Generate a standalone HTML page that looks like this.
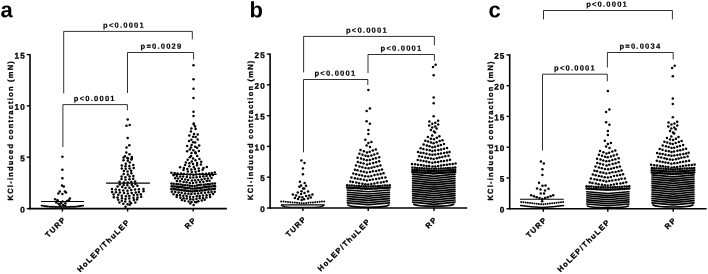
<!DOCTYPE html>
<html lang="en"><head><meta charset="utf-8"><title>KCl-induced contraction</title>
<style>html,body{margin:0;padding:0;background:#fff}body{width:708px;height:274px;overflow:hidden}svg{display:block}text{font-family:'Liberation Sans', Arial, sans-serif;fill:#000;text-rendering:geometricPrecision}.s{stroke:#000;stroke-width:.3px}.p{stroke:#000;stroke-width:.16px}</style>
</head><body>
<svg width="708" height="274" viewBox="0 0 708 274">
<rect width="708" height="274" fill="#fff"/>
<text transform="translate(0.6,17.3) rotate(0.05)" font-size="22" font-weight="bold" text-anchor="start" letter-spacing="0" >a</text>
<text transform="translate(249.6,17.3) rotate(0.05)" font-size="22" font-weight="bold" text-anchor="start" letter-spacing="0" >b</text>
<text transform="translate(488.6,17.3) rotate(0.05)" font-size="22" font-weight="bold" text-anchor="start" letter-spacing="0" >c</text>
<line x1="30" y1="53.9" x2="30" y2="209.4" stroke="#000" stroke-width="1.6"/>
<line x1="29.2" y1="208.6" x2="226.9" y2="208.6" stroke="#000" stroke-width="1.6"/>
<line x1="26.8" y1="54.6" x2="30" y2="54.6" stroke="#000" stroke-width="1.4"/>
<text transform="translate(25.8,58.5) rotate(0.05)" font-size="8.2" font-weight="bold" text-anchor="end" letter-spacing="1.1" class="s">15</text>
<line x1="26.8" y1="105.9" x2="30" y2="105.9" stroke="#000" stroke-width="1.4"/>
<text transform="translate(25.8,109.8) rotate(0.05)" font-size="8.2" font-weight="bold" text-anchor="end" letter-spacing="1.1" class="s">10</text>
<line x1="26.8" y1="157.2" x2="30" y2="157.2" stroke="#000" stroke-width="1.4"/>
<text transform="translate(25.8,161.2) rotate(0.05)" font-size="8.2" font-weight="bold" text-anchor="end" letter-spacing="1.1" class="s">5</text>
<line x1="26.8" y1="208.6" x2="30" y2="208.6" stroke="#000" stroke-width="1.4"/>
<text transform="translate(25.8,212.5) rotate(0.05)" font-size="8.2" font-weight="bold" text-anchor="end" letter-spacing="1.1" class="s">0</text>
<line x1="62.4" y1="208.6" x2="62.4" y2="211.6" stroke="#000" stroke-width="1.4"/>
<line x1="127.6" y1="208.6" x2="127.6" y2="211.6" stroke="#000" stroke-width="1.4"/>
<line x1="193.2" y1="208.6" x2="193.2" y2="211.6" stroke="#000" stroke-width="1.4"/>
<text class="s" transform="translate(66.5,219.8) rotate(-45)" font-size="7.6" font-weight="bold" text-anchor="end" letter-spacing="1.28">TURP</text>
<text class="s" transform="translate(130.5,222.2) rotate(-45)" font-size="7.6" font-weight="bold" text-anchor="end" letter-spacing="1.28">HoLEP/ThuLEP</text>
<text class="s" transform="translate(196.9,220.3) rotate(-45)" font-size="7.6" font-weight="bold" text-anchor="end" letter-spacing="1.28">RP</text>
<text class="s" transform="translate(13.4,130.2) rotate(-90)" font-size="7.5" font-weight="bold" text-anchor="middle" letter-spacing="1.22">KCl-induced contraction (mN)</text>
<polyline fill="none" stroke="#1a1a1a" stroke-width="0.9" points="63.7,93.3 63.7,31.4 192.3,31.4 192.3,39.3"/>
<text transform="translate(124,27.8) rotate(0.05)" font-size="7.6" font-weight="bold" text-anchor="middle" letter-spacing="1.2" class="p">p&lt;0.0001</text>
<polyline fill="none" stroke="#1a1a1a" stroke-width="0.9" points="127.5,93 127.5,52.5 193.6,52.5 193.6,59.5"/>
<text transform="translate(161.5,48.8) rotate(0.05)" font-size="7.6" font-weight="bold" text-anchor="middle" letter-spacing="1.2" class="p">p=0.0029</text>
<polyline fill="none" stroke="#1a1a1a" stroke-width="0.9" points="62.9,147 62.9,104.6 127.4,104.6 127.4,110.3"/>
<text transform="translate(94.8,100.9) rotate(0.05)" font-size="7.6" font-weight="bold" text-anchor="middle" letter-spacing="1.2" class="p">p&lt;0.0001</text>
<g fill="#000"><circle cx="62.4" cy="156.8" r="1.25"/><circle cx="62.4" cy="169.7" r="1.25"/><circle cx="62.4" cy="178.2" r="1.25"/><circle cx="62" cy="185.4" r="1.25"/><circle cx="63.8" cy="186.6" r="1.25"/><circle cx="59.8" cy="191.6" r="1.25"/><circle cx="64.9" cy="191.4" r="1.25"/><circle cx="62.4" cy="194" r="1.25"/><circle cx="58.4" cy="193.4" r="1.25"/><circle cx="66" cy="192.6" r="1.25"/><circle cx="55.2" cy="199.3" r="1.25"/><circle cx="57.5" cy="200.2" r="1.25"/><circle cx="69.9" cy="198.6" r="1.25"/><circle cx="68.8" cy="200.2" r="1.25"/><circle cx="67.2" cy="201.1" r="1.25"/><circle cx="56.3" cy="202.4" r="1.25"/><circle cx="58.6" cy="203.8" r="1.25"/><circle cx="60.9" cy="203.3" r="1.25"/><circle cx="63.1" cy="204.9" r="1.25"/><circle cx="65.4" cy="203.3" r="1.25"/><circle cx="62.7" cy="201.5" r="1.25"/><circle cx="60" cy="205.6" r="1.25"/><circle cx="65.2" cy="205.8" r="1.25"/></g>
<g fill="#000"><circle cx="41.6" cy="205.6" r="0.95"/><circle cx="42.9" cy="205.8" r="0.95"/><circle cx="44.1" cy="206" r="0.95"/><circle cx="45.4" cy="206.2" r="0.95"/><circle cx="46.6" cy="206.3" r="0.95"/><circle cx="47.9" cy="206.5" r="0.95"/><circle cx="49.2" cy="206.6" r="0.95"/><circle cx="50.4" cy="206.7" r="0.95"/><circle cx="51.7" cy="206.7" r="0.95"/><circle cx="52.9" cy="206.8" r="0.95"/><circle cx="54.2" cy="206.8" r="0.95"/><circle cx="55.5" cy="206.9" r="0.95"/><circle cx="56.7" cy="206.9" r="0.95"/><circle cx="58" cy="206.9" r="0.95"/><circle cx="59.2" cy="206.9" r="0.95"/><circle cx="60.5" cy="206.9" r="0.95"/><circle cx="61.8" cy="206.9" r="0.95"/><circle cx="63" cy="206.9" r="0.95"/><circle cx="64.3" cy="206.9" r="0.95"/><circle cx="65.6" cy="206.9" r="0.95"/><circle cx="66.8" cy="206.9" r="0.95"/><circle cx="68.1" cy="206.9" r="0.95"/><circle cx="69.3" cy="206.9" r="0.95"/><circle cx="70.6" cy="206.8" r="0.95"/><circle cx="71.9" cy="206.8" r="0.95"/><circle cx="73.1" cy="206.7" r="0.95"/><circle cx="74.4" cy="206.7" r="0.95"/><circle cx="75.6" cy="206.6" r="0.95"/><circle cx="76.9" cy="206.5" r="0.95"/><circle cx="78.2" cy="206.3" r="0.95"/><circle cx="79.4" cy="206.2" r="0.95"/><circle cx="80.7" cy="206" r="0.95"/><circle cx="81.9" cy="205.8" r="0.95"/><circle cx="83.2" cy="205.6" r="0.95"/></g>
<line x1="41" y1="201.5" x2="84" y2="201.5" stroke="#000" stroke-width="1.2"/>
<g fill="#000"><circle cx="125.5" cy="206.8" r="1.25"/><circle cx="129.7" cy="204.8" r="1.25"/><circle cx="127.6" cy="204.2" r="1.25"/><circle cx="123.3" cy="203.8" r="1.25"/><circle cx="131.1" cy="203.2" r="1.25"/><circle cx="119.4" cy="202.6" r="1.25"/><circle cx="135.3" cy="202.5" r="1.25"/><circle cx="125.3" cy="201.4" r="1.25"/><circle cx="129.7" cy="201.4" r="1.25"/><circle cx="121.8" cy="200.7" r="1.25"/><circle cx="133.9" cy="200.1" r="1.25"/><circle cx="118.2" cy="199.8" r="1.25"/><circle cx="137" cy="199.4" r="1.25"/><circle cx="125.5" cy="199" r="1.25"/><circle cx="129.3" cy="198.6" r="1.25"/><circle cx="121.9" cy="198.2" r="1.25"/><circle cx="133.5" cy="197.7" r="1.25"/><circle cx="117.5" cy="197.5" r="1.25"/><circle cx="137.5" cy="197.4" r="1.25"/><circle cx="113.8" cy="197.2" r="1.25"/><circle cx="141.2" cy="196.7" r="1.25"/><circle cx="125.9" cy="196.2" r="1.25"/><circle cx="129.3" cy="195.9" r="1.25"/><circle cx="121.8" cy="195.8" r="1.25"/><circle cx="133.7" cy="195.1" r="1.25"/><circle cx="118.3" cy="194.8" r="1.25"/><circle cx="137.3" cy="194.8" r="1.25"/><circle cx="113.6" cy="194.4" r="1.25"/><circle cx="140.8" cy="194.2" r="1.25"/><circle cx="127.8" cy="193.4" r="1.25"/><circle cx="124" cy="193" r="1.25"/><circle cx="131.7" cy="193" r="1.25"/><circle cx="119.9" cy="192.6" r="1.25"/><circle cx="135.7" cy="192.6" r="1.25"/><circle cx="115.9" cy="192.2" r="1.25"/><circle cx="138.9" cy="192" r="1.25"/><circle cx="112.1" cy="191.9" r="1.25"/><circle cx="143.5" cy="191.3" r="1.25"/><circle cx="127.5" cy="190.8" r="1.25"/><circle cx="123.3" cy="190.4" r="1.25"/><circle cx="131.2" cy="190" r="1.25"/><circle cx="119.4" cy="190.1" r="1.25"/><circle cx="135.1" cy="189.5" r="1.25"/><circle cx="115.8" cy="189.6" r="1.25"/><circle cx="138.9" cy="189.2" r="1.25"/><circle cx="112" cy="189.1" r="1.25"/><circle cx="143.5" cy="188.9" r="1.25"/><circle cx="125.5" cy="187.9" r="1.25"/><circle cx="129.4" cy="187.8" r="1.25"/><circle cx="122.2" cy="187" r="1.25"/><circle cx="133.2" cy="186.6" r="1.25"/><circle cx="117.6" cy="186.4" r="1.25"/><circle cx="137.4" cy="185.8" r="1.25"/><circle cx="127.3" cy="185.2" r="1.25"/><circle cx="123.6" cy="185" r="1.25"/><circle cx="131.8" cy="184.8" r="1.25"/><circle cx="119.8" cy="184.5" r="1.25"/><circle cx="135.5" cy="184.1" r="1.25"/><circle cx="127.8" cy="182.6" r="1.25"/><circle cx="123.9" cy="182.4" r="1.25"/><circle cx="131.4" cy="182" r="1.25"/><circle cx="119.6" cy="181.8" r="1.25"/><circle cx="135.1" cy="181.4" r="1.25"/><circle cx="125.5" cy="179.7" r="1.25"/><circle cx="129.5" cy="179.3" r="1.25"/><circle cx="121.5" cy="179" r="1.25"/><circle cx="133.2" cy="178.8" r="1.25"/><circle cx="125.4" cy="177.2" r="1.25"/><circle cx="129.6" cy="176.6" r="1.25"/><circle cx="121.6" cy="176.4" r="1.25"/><circle cx="133.4" cy="175.9" r="1.25"/><circle cx="127.8" cy="174.5" r="1.25"/><circle cx="123.7" cy="173.9" r="1.25"/><circle cx="131.3" cy="173.2" r="1.25"/><circle cx="127.5" cy="171.6" r="1.25"/><circle cx="123.9" cy="171" r="1.25"/><circle cx="131.2" cy="170.8" r="1.25"/><circle cx="125.7" cy="168.8" r="1.25"/><circle cx="129.6" cy="168.4" r="1.25"/><circle cx="121.8" cy="168.4" r="1.25"/><circle cx="133.7" cy="168" r="1.25"/><circle cx="125.5" cy="166.2" r="1.25"/><circle cx="129.4" cy="166" r="1.25"/><circle cx="121.8" cy="165.6" r="1.25"/><circle cx="133.3" cy="165.1" r="1.25"/><circle cx="125.8" cy="163.7" r="1.25"/><circle cx="129.8" cy="162.6" r="1.25"/><circle cx="127.8" cy="160.8" r="1.25"/><circle cx="123.5" cy="160.3" r="1.25"/><circle cx="131.4" cy="159.6" r="1.25"/><circle cx="127.3" cy="158" r="1.25"/><circle cx="123.6" cy="157.6" r="1.25"/><circle cx="131.8" cy="157" r="1.25"/><circle cx="127.7" cy="119.5" r="1.25"/><circle cx="126.5" cy="125.7" r="1.25"/><circle cx="129.7" cy="124.9" r="1.25"/><circle cx="127.7" cy="138.1" r="1.25"/><circle cx="129.3" cy="145.2" r="1.25"/><circle cx="126.5" cy="147.6" r="1.25"/><circle cx="126.3" cy="152.6" r="1.25"/><circle cx="129.5" cy="154.2" r="1.25"/><circle cx="125" cy="156.2" r="1.25"/><circle cx="128" cy="158.6" r="1.25"/><circle cx="131.8" cy="158.8" r="1.25"/></g>
<line x1="106.1" y1="183.1" x2="149.9" y2="183.1" stroke="#000" stroke-width="1.2"/>
<g fill="#000"><circle cx="193.6" cy="205.1" r="1.25"/><circle cx="190.3" cy="203.6" r="1.25"/><circle cx="196.4" cy="202.3" r="1.25"/><circle cx="191.5" cy="202.1" r="1.25"/><circle cx="195" cy="202" r="1.25"/><circle cx="188.6" cy="201.5" r="1.25"/><circle cx="198.3" cy="201.2" r="1.25"/><circle cx="184.8" cy="200.8" r="1.25"/><circle cx="201.8" cy="200.5" r="1.25"/><circle cx="181.9" cy="200" r="1.25"/><circle cx="204.7" cy="199.8" r="1.25"/><circle cx="193.2" cy="199.6" r="1.25"/><circle cx="190.3" cy="199.2" r="1.25"/><circle cx="196.5" cy="199.1" r="1.25"/><circle cx="186.8" cy="198.6" r="1.25"/><circle cx="199.7" cy="198.3" r="1.25"/><circle cx="183.6" cy="198.3" r="1.25"/><circle cx="203" cy="198.1" r="1.25"/><circle cx="180.4" cy="197.8" r="1.25"/><circle cx="206.4" cy="197.5" r="1.25"/><circle cx="176.6" cy="197" r="1.25"/><circle cx="210.1" cy="197" r="1.25"/><circle cx="193.3" cy="196.9" r="1.25"/><circle cx="190" cy="196.7" r="1.25"/><circle cx="196.8" cy="196.2" r="1.25"/><circle cx="186.6" cy="196" r="1.25"/><circle cx="199.7" cy="195.9" r="1.25"/><circle cx="183.3" cy="195.7" r="1.25"/><circle cx="203" cy="195.6" r="1.25"/><circle cx="180" cy="195.3" r="1.25"/><circle cx="206.6" cy="195.2" r="1.25"/><circle cx="176.8" cy="195" r="1.25"/><circle cx="209.8" cy="194.7" r="1.25"/><circle cx="173.5" cy="194.3" r="1.25"/><circle cx="213.1" cy="194.1" r="1.25"/><circle cx="191.4" cy="194.1" r="1.25"/><circle cx="194.8" cy="193.8" r="1.25"/><circle cx="188.5" cy="193.7" r="1.25"/><circle cx="198.1" cy="193.4" r="1.25"/><circle cx="185.1" cy="193.4" r="1.25"/><circle cx="201.3" cy="193.1" r="1.25"/><circle cx="181.6" cy="192.8" r="1.25"/><circle cx="205" cy="192.7" r="1.25"/><circle cx="178.5" cy="192.6" r="1.25"/><circle cx="208.4" cy="192.3" r="1.25"/><circle cx="175.2" cy="192.1" r="1.25"/><circle cx="211.5" cy="192" r="1.25"/><circle cx="171.8" cy="191.7" r="1.25"/><circle cx="214.7" cy="191.7" r="1.25"/><circle cx="192.5" cy="191.4" r="1.25"/><circle cx="194.4" cy="191.1" r="1.25"/><circle cx="190.7" cy="191.3" r="1.25"/><circle cx="196.1" cy="190.9" r="1.25"/><circle cx="188.7" cy="190.9" r="1.25"/><circle cx="197.4" cy="190.7" r="1.25"/><circle cx="187" cy="190.8" r="1.25"/><circle cx="199.6" cy="190.7" r="1.25"/><circle cx="185.3" cy="190.6" r="1.25"/><circle cx="201.2" cy="190.3" r="1.25"/><circle cx="184" cy="190.5" r="1.25"/><circle cx="202.7" cy="190.4" r="1.25"/><circle cx="181.9" cy="190.1" r="1.25"/><circle cx="204.9" cy="190.1" r="1.25"/><circle cx="180" cy="189.9" r="1.25"/><circle cx="206.4" cy="189.7" r="1.25"/><circle cx="178.3" cy="189.6" r="1.25"/><circle cx="208.2" cy="189.4" r="1.25"/><circle cx="176.8" cy="189.5" r="1.25"/><circle cx="209.5" cy="189.3" r="1.25"/><circle cx="175.1" cy="189.3" r="1.25"/><circle cx="211.3" cy="189.4" r="1.25"/><circle cx="173.5" cy="189.3" r="1.25"/><circle cx="213.1" cy="188.9" r="1.25"/><circle cx="171.3" cy="189" r="1.25"/><circle cx="214.9" cy="188.7" r="1.25"/><circle cx="192.4" cy="188.7" r="1.25"/><circle cx="194.4" cy="188.4" r="1.25"/><circle cx="190.5" cy="188.5" r="1.25"/><circle cx="196" cy="188.4" r="1.25"/><circle cx="188.7" cy="188" r="1.25"/><circle cx="197.8" cy="188.1" r="1.25"/><circle cx="187" cy="188.1" r="1.25"/><circle cx="199.5" cy="188" r="1.25"/><circle cx="185.2" cy="187.9" r="1.25"/><circle cx="200.9" cy="187.8" r="1.25"/><circle cx="183.7" cy="187.5" r="1.25"/><circle cx="202.9" cy="187.6" r="1.25"/><circle cx="181.9" cy="187.2" r="1.25"/><circle cx="204.6" cy="187.2" r="1.25"/><circle cx="180" cy="187.1" r="1.25"/><circle cx="206.1" cy="187" r="1.25"/><circle cx="178.4" cy="186.9" r="1.25"/><circle cx="208.2" cy="186.8" r="1.25"/><circle cx="176.8" cy="186.7" r="1.25"/><circle cx="209.7" cy="186.5" r="1.25"/><circle cx="174.9" cy="186.4" r="1.25"/><circle cx="211.7" cy="186.5" r="1.25"/><circle cx="173.1" cy="186.4" r="1.25"/><circle cx="213.6" cy="186.1" r="1.25"/><circle cx="171.7" cy="186.2" r="1.25"/><circle cx="215" cy="186.2" r="1.25"/><circle cx="192.1" cy="185.9" r="1.25"/><circle cx="194.6" cy="185.9" r="1.25"/><circle cx="189.8" cy="185.7" r="1.25"/><circle cx="196.9" cy="185.5" r="1.25"/><circle cx="187.5" cy="185.3" r="1.25"/><circle cx="198.8" cy="185.1" r="1.25"/><circle cx="185" cy="185.2" r="1.25"/><circle cx="201.2" cy="184.8" r="1.25"/><circle cx="182.7" cy="184.9" r="1.25"/><circle cx="203.8" cy="184.7" r="1.25"/><circle cx="180.6" cy="184.5" r="1.25"/><circle cx="205.8" cy="184.4" r="1.25"/><circle cx="178.2" cy="184.3" r="1.25"/><circle cx="208" cy="184.3" r="1.25"/><circle cx="176.4" cy="184" r="1.25"/><circle cx="210.3" cy="184.1" r="1.25"/><circle cx="173.7" cy="183.7" r="1.25"/><circle cx="212.5" cy="183.6" r="1.25"/><circle cx="171.5" cy="183.5" r="1.25"/><circle cx="214.9" cy="183.4" r="1.25"/><circle cx="193" cy="183.1" r="1.25"/><circle cx="189.8" cy="182.9" r="1.25"/><circle cx="196.3" cy="182.5" r="1.25"/><circle cx="186.6" cy="182.3" r="1.25"/><circle cx="200" cy="182.1" r="1.25"/><circle cx="183.6" cy="181.9" r="1.25"/><circle cx="203.3" cy="181.8" r="1.25"/><circle cx="180" cy="181.3" r="1.25"/><circle cx="206.8" cy="181" r="1.25"/><circle cx="176.9" cy="180.9" r="1.25"/><circle cx="209.5" cy="180.8" r="1.25"/><circle cx="191.9" cy="180.5" r="1.25"/><circle cx="195.1" cy="180.3" r="1.25"/><circle cx="188.1" cy="180" r="1.25"/><circle cx="198.3" cy="179.9" r="1.25"/><circle cx="185.2" cy="179.6" r="1.25"/><circle cx="201.6" cy="179.4" r="1.25"/><circle cx="181.9" cy="179.1" r="1.25"/><circle cx="204.7" cy="178.7" r="1.25"/><circle cx="178.2" cy="178.5" r="1.25"/><circle cx="207.9" cy="178.5" r="1.25"/><circle cx="175.2" cy="178.2" r="1.25"/><circle cx="211.5" cy="178" r="1.25"/><circle cx="193.3" cy="177.5" r="1.25"/><circle cx="190.2" cy="177.6" r="1.25"/><circle cx="196.6" cy="177.3" r="1.25"/><circle cx="186.8" cy="176.9" r="1.25"/><circle cx="200" cy="176.8" r="1.25"/><circle cx="183.1" cy="176.6" r="1.25"/><circle cx="203.3" cy="176.3" r="1.25"/><circle cx="180.2" cy="176.4" r="1.25"/><circle cx="206.5" cy="176" r="1.25"/><circle cx="176.8" cy="175.9" r="1.25"/><circle cx="210" cy="175.7" r="1.25"/><circle cx="173.6" cy="175.3" r="1.25"/><circle cx="212.9" cy="175.1" r="1.25"/><circle cx="193.4" cy="174.9" r="1.25"/><circle cx="190.2" cy="174.6" r="1.25"/><circle cx="196.1" cy="174.5" r="1.25"/><circle cx="187.2" cy="174.5" r="1.25"/><circle cx="199.6" cy="174.2" r="1.25"/><circle cx="184" cy="174.1" r="1.25"/><circle cx="202.6" cy="173.8" r="1.25"/><circle cx="181.1" cy="173.6" r="1.25"/><circle cx="206" cy="173.7" r="1.25"/><circle cx="177.5" cy="173.4" r="1.25"/><circle cx="209" cy="173.4" r="1.25"/><circle cx="174.6" cy="172.9" r="1.25"/><circle cx="211.8" cy="173" r="1.25"/><circle cx="171.4" cy="172.7" r="1.25"/><circle cx="214.8" cy="172.5" r="1.25"/><circle cx="191.8" cy="172" r="1.25"/><circle cx="195.6" cy="171.8" r="1.25"/><circle cx="187.8" cy="171.4" r="1.25"/><circle cx="198.9" cy="171" r="1.25"/><circle cx="183.5" cy="170" r="1.25"/><circle cx="202.6" cy="169.8" r="1.25"/><circle cx="191.3" cy="169.4" r="1.25"/><circle cx="194.9" cy="169.1" r="1.25"/><circle cx="187.3" cy="169" r="1.25"/><circle cx="198.7" cy="168.6" r="1.25"/><circle cx="183.9" cy="167.9" r="1.25"/><circle cx="203.5" cy="167.9" r="1.25"/><circle cx="180.1" cy="167.3" r="1.25"/><circle cx="206.8" cy="167" r="1.25"/><circle cx="193.8" cy="166.9" r="1.25"/><circle cx="189.3" cy="166.2" r="1.25"/><circle cx="197" cy="165.3" r="1.25"/><circle cx="185.1" cy="165.1" r="1.25"/><circle cx="200.9" cy="164.6" r="1.25"/><circle cx="193" cy="164" r="1.25"/><circle cx="189.4" cy="163.3" r="1.25"/><circle cx="197.1" cy="163.1" r="1.25"/><circle cx="185.9" cy="162.4" r="1.25"/><circle cx="201.2" cy="161.8" r="1.25"/><circle cx="191.8" cy="161.4" r="1.25"/><circle cx="195.5" cy="160.3" r="1.25"/><circle cx="187.7" cy="159.7" r="1.25"/><circle cx="199.4" cy="159" r="1.25"/><circle cx="193.1" cy="158.4" r="1.25"/><circle cx="189.8" cy="157.2" r="1.25"/><circle cx="197.2" cy="156.1" r="1.25"/><circle cx="191.1" cy="156.1" r="1.25"/><circle cx="195.7" cy="153.3" r="1.25"/><circle cx="191.5" cy="153.1" r="1.25"/><circle cx="195.3" cy="152.3" r="1.25"/><circle cx="187.1" cy="151.3" r="1.25"/><circle cx="198.9" cy="151" r="1.25"/><circle cx="193.3" cy="150.3" r="1.25"/><circle cx="189.8" cy="149.5" r="1.25"/><circle cx="197.1" cy="147.8" r="1.25"/><circle cx="191" cy="147.5" r="1.25"/><circle cx="195.1" cy="146.7" r="1.25"/><circle cx="187.2" cy="146" r="1.25"/><circle cx="199.2" cy="145.5" r="1.25"/><circle cx="191.6" cy="145" r="1.25"/><circle cx="195.2" cy="142.6" r="1.25"/><circle cx="193.2" cy="142.2" r="1.25"/><circle cx="189" cy="141" r="1.25"/><circle cx="197.7" cy="139.6" r="1.25"/><circle cx="191.4" cy="139.7" r="1.25"/><circle cx="195.6" cy="136.9" r="1.25"/><circle cx="193.1" cy="136.7" r="1.25"/><circle cx="189.3" cy="135.6" r="1.25"/><circle cx="197.7" cy="134.6" r="1.25"/><circle cx="194" cy="134.1" r="1.25"/><circle cx="190.9" cy="131.6" r="1.25"/><circle cx="195.6" cy="128.9" r="1.25"/><circle cx="191.4" cy="128.4" r="1.25"/><circle cx="195.1" cy="126.5" r="1.25"/><circle cx="193.9" cy="124.4" r="1.25"/><circle cx="193.5" cy="65.2" r="1.25"/><circle cx="193.5" cy="79.3" r="1.25"/><circle cx="193.5" cy="88.8" r="1.25"/><circle cx="193.5" cy="98" r="1.25"/><circle cx="193.5" cy="111.8" r="1.25"/><circle cx="193.5" cy="115.9" r="1.25"/><circle cx="193.7" cy="123.5" r="1.25"/></g>
<line x1="172.4" y1="174.3" x2="216.7" y2="174.3" stroke="#000" stroke-width="1.2"/>
<line x1="270.1" y1="53.4" x2="270.1" y2="208.8" stroke="#000" stroke-width="1.6"/>
<line x1="269.3" y1="208" x2="467.2" y2="208" stroke="#000" stroke-width="1.6"/>
<line x1="266.9" y1="54.1" x2="270.1" y2="54.1" stroke="#000" stroke-width="1.4"/>
<text transform="translate(265.9,58) rotate(0.05)" font-size="8.2" font-weight="bold" text-anchor="end" letter-spacing="1.1" class="s">25</text>
<line x1="266.9" y1="84.9" x2="270.1" y2="84.9" stroke="#000" stroke-width="1.4"/>
<text transform="translate(265.9,88.8) rotate(0.05)" font-size="8.2" font-weight="bold" text-anchor="end" letter-spacing="1.1" class="s">20</text>
<line x1="266.9" y1="115.7" x2="270.1" y2="115.7" stroke="#000" stroke-width="1.4"/>
<text transform="translate(265.9,119.6) rotate(0.05)" font-size="8.2" font-weight="bold" text-anchor="end" letter-spacing="1.1" class="s">15</text>
<line x1="266.9" y1="146.4" x2="270.1" y2="146.4" stroke="#000" stroke-width="1.4"/>
<text transform="translate(265.9,150.3) rotate(0.05)" font-size="8.2" font-weight="bold" text-anchor="end" letter-spacing="1.1" class="s">10</text>
<line x1="266.9" y1="177.2" x2="270.1" y2="177.2" stroke="#000" stroke-width="1.4"/>
<text transform="translate(265.9,181.1) rotate(0.05)" font-size="8.2" font-weight="bold" text-anchor="end" letter-spacing="1.1" class="s">5</text>
<line x1="266.9" y1="208" x2="270.1" y2="208" stroke="#000" stroke-width="1.4"/>
<text transform="translate(265.9,211.9) rotate(0.05)" font-size="8.2" font-weight="bold" text-anchor="end" letter-spacing="1.1" class="s">0</text>
<line x1="302.9" y1="208" x2="302.9" y2="211" stroke="#000" stroke-width="1.4"/>
<line x1="368.2" y1="208" x2="368.2" y2="211" stroke="#000" stroke-width="1.4"/>
<line x1="434" y1="208" x2="434" y2="211" stroke="#000" stroke-width="1.4"/>
<text class="s" transform="translate(307,219.2) rotate(-45)" font-size="7.6" font-weight="bold" text-anchor="end" letter-spacing="1.28">TURP</text>
<text class="s" transform="translate(371.1,221.6) rotate(-45)" font-size="7.6" font-weight="bold" text-anchor="end" letter-spacing="1.28">HoLEP/ThuLEP</text>
<text class="s" transform="translate(437.7,219.7) rotate(-45)" font-size="7.6" font-weight="bold" text-anchor="end" letter-spacing="1.28">RP</text>
<text class="s" transform="translate(253,129.7) rotate(-90)" font-size="7.5" font-weight="bold" text-anchor="middle" letter-spacing="1.22">KCl-induced contraction (mN)</text>
<polyline fill="none" stroke="#1a1a1a" stroke-width="0.9" points="303.6,72.4 303.6,36.4 434.4,36.4 434.4,45.5"/>
<text transform="translate(366.9,32.7) rotate(0.05)" font-size="7.6" font-weight="bold" text-anchor="middle" letter-spacing="1.2" class="p">p&lt;0.0001</text>
<polyline fill="none" stroke="#1a1a1a" stroke-width="0.9" points="368,73 368,54.5 434.4,54.5 434.4,60.7"/>
<text transform="translate(401.5,50.8) rotate(0.05)" font-size="7.6" font-weight="bold" text-anchor="middle" letter-spacing="1.2" class="p">p&lt;0.0001</text>
<polyline fill="none" stroke="#1a1a1a" stroke-width="0.9" points="303.5,152.3 303.5,79.5 367.8,79.5 367.8,85"/>
<text transform="translate(335.4,75.8) rotate(0.05)" font-size="7.6" font-weight="bold" text-anchor="middle" letter-spacing="1.2" class="p">p&lt;0.0001</text>
<g fill="#000"><circle cx="301.4" cy="160.5" r="1.25"/><circle cx="304.5" cy="162.9" r="1.25"/><circle cx="302.9" cy="168.4" r="1.25"/><circle cx="302.9" cy="174.2" r="1.25"/><circle cx="299.9" cy="181.7" r="1.25"/><circle cx="301.6" cy="199.9" r="1.25"/><circle cx="304" cy="199.3" r="1.25"/><circle cx="298" cy="199" r="1.25"/><circle cx="308" cy="198.5" r="1.25"/><circle cx="294.9" cy="198" r="1.25"/><circle cx="310.8" cy="197.4" r="1.25"/><circle cx="302.4" cy="197.3" r="1.25"/><circle cx="299.4" cy="196.9" r="1.25"/><circle cx="306.1" cy="196.1" r="1.25"/><circle cx="296.1" cy="195.6" r="1.25"/><circle cx="309.3" cy="195.4" r="1.25"/><circle cx="292.9" cy="194.6" r="1.25"/><circle cx="312.4" cy="194.5" r="1.25"/><circle cx="301.1" cy="194.1" r="1.25"/><circle cx="304.5" cy="193" r="1.25"/><circle cx="297.8" cy="192.4" r="1.25"/><circle cx="308" cy="191.6" r="1.25"/><circle cx="301.5" cy="191.3" r="1.25"/><circle cx="304.2" cy="188.5" r="1.25"/><circle cx="303.2" cy="188.5" r="1.25"/><circle cx="299.4" cy="186.8" r="1.25"/><circle cx="306" cy="185.8" r="1.25"/><circle cx="301.1" cy="185.4" r="1.25"/><circle cx="304.6" cy="183.1" r="1.25"/></g>
<g fill="#000"><circle cx="281.2" cy="201.4" r="1.0"/><circle cx="283.5" cy="201.6" r="1.0"/><circle cx="285.7" cy="201.8" r="1.0"/><circle cx="288" cy="202" r="1.0"/><circle cx="290.3" cy="202.2" r="1.0"/><circle cx="292.5" cy="202.4" r="1.0"/><circle cx="294.8" cy="202.6" r="1.0"/><circle cx="297" cy="202.8" r="1.0"/><circle cx="299.3" cy="203" r="1.0"/><circle cx="301.6" cy="203.2" r="1.0"/><circle cx="303.8" cy="203.2" r="1.0"/><circle cx="306.1" cy="203" r="1.0"/><circle cx="308.4" cy="202.8" r="1.0"/><circle cx="310.6" cy="202.6" r="1.0"/><circle cx="312.9" cy="202.4" r="1.0"/><circle cx="315.1" cy="202.2" r="1.0"/><circle cx="317.4" cy="202" r="1.0"/><circle cx="319.7" cy="201.8" r="1.0"/><circle cx="321.9" cy="201.6" r="1.0"/><circle cx="324.2" cy="201.4" r="1.0"/></g>
<path d="M281.3,205.2 Q284,207.1 291,207.2 L314.5,207.2 Q321.5,207.1 324.2,205.2" fill="none" stroke="#000" stroke-width="1.1" stroke-linecap="round"/>
<line x1="281" y1="204.8" x2="324.4" y2="204.8" stroke="#000" stroke-width="1.2"/>
<path d="M347.3,190 L368.4,191.8 L389.5,190 M347.3,192.2 L368.4,194 L389.5,192.2 M347.3,194.3 L368.4,196.1 L389.5,194.3 M347.3,196.4 L368.4,198.2 L389.5,196.4 M347.3,198.6 L368.4,200.4 L389.5,198.6 M347.3,200.8 L368.4,202.6 L389.5,200.8 M347.3,202.9 L368.4,204.7 L389.5,202.9 M347.9,205 Q350.9,207.2 368.4,207.2 Q385.9,207.2 388.9,205" fill="none" stroke="#000" stroke-width="1.58" stroke-linecap="round" stroke-linejoin="round"/>
<g fill="#000"><circle cx="347.1" cy="185.3" r="1.25"/><circle cx="349.5" cy="185.4" r="1.25"/><circle cx="351.8" cy="185.6" r="1.25"/><circle cx="354.2" cy="185.7" r="1.25"/><circle cx="356.6" cy="185.9" r="1.25"/><circle cx="358.9" cy="186" r="1.25"/><circle cx="361.3" cy="186.2" r="1.25"/><circle cx="363.7" cy="186.3" r="1.25"/><circle cx="366" cy="186.5" r="1.25"/><circle cx="368.4" cy="186.6" r="1.25"/><circle cx="370.8" cy="186.5" r="1.25"/><circle cx="373.1" cy="186.3" r="1.25"/><circle cx="375.5" cy="186.2" r="1.25"/><circle cx="377.9" cy="186" r="1.25"/><circle cx="380.2" cy="185.9" r="1.25"/><circle cx="382.6" cy="185.7" r="1.25"/><circle cx="385" cy="185.6" r="1.25"/><circle cx="387.3" cy="185.4" r="1.25"/><circle cx="389.7" cy="185.3" r="1.25"/><circle cx="347.1" cy="187.6" r="1.25"/><circle cx="348.8" cy="187.7" r="1.25"/><circle cx="350.5" cy="187.8" r="1.25"/><circle cx="352.2" cy="187.9" r="1.25"/><circle cx="353.9" cy="188" r="1.25"/><circle cx="355.6" cy="188.1" r="1.25"/><circle cx="357.3" cy="188.2" r="1.25"/><circle cx="359" cy="188.3" r="1.25"/><circle cx="360.7" cy="188.4" r="1.25"/><circle cx="362.4" cy="188.5" r="1.25"/><circle cx="364.1" cy="188.6" r="1.25"/><circle cx="365.8" cy="188.7" r="1.25"/><circle cx="367.5" cy="188.8" r="1.25"/><circle cx="369.3" cy="188.8" r="1.25"/><circle cx="371" cy="188.7" r="1.25"/><circle cx="372.7" cy="188.6" r="1.25"/><circle cx="374.4" cy="188.5" r="1.25"/><circle cx="376.1" cy="188.4" r="1.25"/><circle cx="377.8" cy="188.3" r="1.25"/><circle cx="379.5" cy="188.2" r="1.25"/><circle cx="381.2" cy="188.1" r="1.25"/><circle cx="382.9" cy="188" r="1.25"/><circle cx="384.6" cy="187.9" r="1.25"/><circle cx="386.3" cy="187.8" r="1.25"/><circle cx="388" cy="187.7" r="1.25"/><circle cx="389.7" cy="187.6" r="1.25"/><circle cx="368.2" cy="184.4" r="1.25"/><circle cx="365.3" cy="184.2" r="1.25"/><circle cx="371.3" cy="184" r="1.25"/><circle cx="362.4" cy="183.7" r="1.25"/><circle cx="374.4" cy="183.5" r="1.25"/><circle cx="359.1" cy="183.2" r="1.25"/><circle cx="377.4" cy="182.8" r="1.25"/><circle cx="356.3" cy="182.6" r="1.25"/><circle cx="380.9" cy="182.4" r="1.25"/><circle cx="352.9" cy="182.1" r="1.25"/><circle cx="383.7" cy="181.9" r="1.25"/><circle cx="350.3" cy="181.5" r="1.25"/><circle cx="386.7" cy="181.3" r="1.25"/><circle cx="366.8" cy="180.5" r="1.25"/><circle cx="369.8" cy="180.1" r="1.25"/><circle cx="363.9" cy="179.8" r="1.25"/><circle cx="372.8" cy="179.5" r="1.25"/><circle cx="360.6" cy="179.2" r="1.25"/><circle cx="376.1" cy="179" r="1.25"/><circle cx="357.7" cy="178.7" r="1.25"/><circle cx="379.2" cy="178.6" r="1.25"/><circle cx="354.9" cy="178.2" r="1.25"/><circle cx="382" cy="177.8" r="1.25"/><circle cx="351.4" cy="177.6" r="1.25"/><circle cx="385.4" cy="177.4" r="1.25"/><circle cx="368.3" cy="176.5" r="1.25"/><circle cx="365.2" cy="176.2" r="1.25"/><circle cx="371.3" cy="175.9" r="1.25"/><circle cx="362.1" cy="175.5" r="1.25"/><circle cx="374.5" cy="175.1" r="1.25"/><circle cx="359.3" cy="174.9" r="1.25"/><circle cx="377.6" cy="174.5" r="1.25"/><circle cx="356.2" cy="174.3" r="1.25"/><circle cx="380.6" cy="174" r="1.25"/><circle cx="353.3" cy="173.6" r="1.25"/><circle cx="383.5" cy="173.3" r="1.25"/><circle cx="366.8" cy="172.5" r="1.25"/><circle cx="370" cy="172" r="1.25"/><circle cx="363.9" cy="171.7" r="1.25"/><circle cx="372.9" cy="171.3" r="1.25"/><circle cx="360.9" cy="171.2" r="1.25"/><circle cx="376.1" cy="170.9" r="1.25"/><circle cx="357.5" cy="170.3" r="1.25"/><circle cx="379.1" cy="170.2" r="1.25"/><circle cx="354.9" cy="169.7" r="1.25"/><circle cx="382" cy="169.4" r="1.25"/><circle cx="368.6" cy="168.3" r="1.25"/><circle cx="365.5" cy="168.1" r="1.25"/><circle cx="371.6" cy="167.7" r="1.25"/><circle cx="362.3" cy="167.2" r="1.25"/><circle cx="374.4" cy="166.9" r="1.25"/><circle cx="359.4" cy="166.4" r="1.25"/><circle cx="377.4" cy="166.2" r="1.25"/><circle cx="356" cy="165.6" r="1.25"/><circle cx="380.4" cy="165.4" r="1.25"/><circle cx="367.1" cy="164.5" r="1.25"/><circle cx="369.8" cy="163.8" r="1.25"/><circle cx="363.6" cy="163.5" r="1.25"/><circle cx="373.1" cy="163.1" r="1.25"/><circle cx="360.6" cy="162.7" r="1.25"/><circle cx="376.1" cy="162.3" r="1.25"/><circle cx="357.8" cy="161.9" r="1.25"/><circle cx="379.2" cy="161.3" r="1.25"/><circle cx="366.8" cy="160.3" r="1.25"/><circle cx="369.8" cy="159.9" r="1.25"/><circle cx="363.8" cy="159.4" r="1.25"/><circle cx="372.9" cy="159" r="1.25"/><circle cx="361" cy="158.6" r="1.25"/><circle cx="375.8" cy="158.2" r="1.25"/><circle cx="357.6" cy="157.8" r="1.25"/><circle cx="379.2" cy="157.3" r="1.25"/><circle cx="368.2" cy="156.3" r="1.25"/><circle cx="365.5" cy="155.8" r="1.25"/><circle cx="371.4" cy="155.4" r="1.25"/><circle cx="362.5" cy="154.8" r="1.25"/><circle cx="374.3" cy="154.4" r="1.25"/><circle cx="359.4" cy="153.8" r="1.25"/><circle cx="377.4" cy="153.4" r="1.25"/><circle cx="367" cy="152.4" r="1.25"/><circle cx="369.7" cy="151.8" r="1.25"/><circle cx="363.9" cy="151.2" r="1.25"/><circle cx="372.8" cy="150.6" r="1.25"/><circle cx="360.5" cy="150.1" r="1.25"/><circle cx="375.8" cy="149.5" r="1.25"/><circle cx="368.4" cy="90.1" r="1.25"/><circle cx="369.9" cy="108.4" r="1.25"/><circle cx="366.6" cy="111" r="1.25"/><circle cx="366.6" cy="121.2" r="1.25"/><circle cx="369.9" cy="123.7" r="1.25"/><circle cx="368.4" cy="130.1" r="1.25"/><circle cx="368.4" cy="133.9" r="1.25"/><circle cx="365.3" cy="139.8" r="1.25"/><circle cx="371.4" cy="142" r="1.25"/><circle cx="368.4" cy="143.1" r="1.25"/><circle cx="366.6" cy="145.4" r="1.25"/><circle cx="370" cy="146.9" r="1.25"/></g>
<path d="M412.6,174.2 L433.8,176.3 L455,174.2 M412.6,176.4 L433.8,178.5 L455,176.4 M412.6,178.5 L433.8,180.6 L455,178.5 M412.6,180.7 L433.8,182.8 L455,180.7 M412.6,182.8 L433.8,184.9 L455,182.8 M412.6,185 L433.8,187.1 L455,185 M412.6,187.1 L433.8,189.2 L455,187.1 M412.6,189.3 L433.8,191.4 L455,189.3 M412.6,191.4 L433.8,193.5 L455,191.4 M412.6,193.6 L433.8,195.7 L455,193.6 M412.6,195.7 L433.8,197.8 L455,195.7 M412.6,197.9 L433.8,200 L455,197.9 M412.6,200 L433.8,202.1 L455,200 M412.6,202.2 L433.8,204.3 L455,202.2 M413.8,204.3 Q416.8,206.3 433.8,206.3 Q450.8,206.3 453.8,204.3" fill="none" stroke="#000" stroke-width="1.66" stroke-linecap="round" stroke-linejoin="round"/>
<g fill="#000"><circle cx="412.4" cy="167.6" r="1.25"/><circle cx="414.8" cy="167.8" r="1.25"/><circle cx="417.2" cy="167.9" r="1.25"/><circle cx="419.5" cy="168.1" r="1.25"/><circle cx="421.9" cy="168.2" r="1.25"/><circle cx="424.3" cy="168.4" r="1.25"/><circle cx="426.7" cy="168.5" r="1.25"/><circle cx="429" cy="168.7" r="1.25"/><circle cx="431.4" cy="168.8" r="1.25"/><circle cx="433.8" cy="169" r="1.25"/><circle cx="436.2" cy="168.8" r="1.25"/><circle cx="438.6" cy="168.7" r="1.25"/><circle cx="440.9" cy="168.5" r="1.25"/><circle cx="443.3" cy="168.4" r="1.25"/><circle cx="445.7" cy="168.2" r="1.25"/><circle cx="448.1" cy="168.1" r="1.25"/><circle cx="450.4" cy="167.9" r="1.25"/><circle cx="452.8" cy="167.8" r="1.25"/><circle cx="455.2" cy="167.6" r="1.25"/><circle cx="412.4" cy="169.8" r="1.25"/><circle cx="414.3" cy="169.9" r="1.25"/><circle cx="416.1" cy="170" r="1.25"/><circle cx="418" cy="170.2" r="1.25"/><circle cx="419.8" cy="170.3" r="1.25"/><circle cx="421.7" cy="170.4" r="1.25"/><circle cx="423.6" cy="170.5" r="1.25"/><circle cx="425.4" cy="170.7" r="1.25"/><circle cx="427.3" cy="170.8" r="1.25"/><circle cx="429.1" cy="170.9" r="1.25"/><circle cx="431" cy="171" r="1.25"/><circle cx="432.9" cy="171.1" r="1.25"/><circle cx="434.7" cy="171.1" r="1.25"/><circle cx="436.6" cy="171" r="1.25"/><circle cx="438.5" cy="170.9" r="1.25"/><circle cx="440.3" cy="170.8" r="1.25"/><circle cx="442.2" cy="170.7" r="1.25"/><circle cx="444" cy="170.5" r="1.25"/><circle cx="445.9" cy="170.4" r="1.25"/><circle cx="447.8" cy="170.3" r="1.25"/><circle cx="449.6" cy="170.2" r="1.25"/><circle cx="451.5" cy="170" r="1.25"/><circle cx="453.3" cy="169.9" r="1.25"/><circle cx="455.2" cy="169.8" r="1.25"/><circle cx="412.4" cy="172" r="1.25"/><circle cx="413.9" cy="172.1" r="1.25"/><circle cx="415.4" cy="172.2" r="1.25"/><circle cx="416.8" cy="172.3" r="1.25"/><circle cx="418.3" cy="172.4" r="1.25"/><circle cx="419.8" cy="172.5" r="1.25"/><circle cx="421.3" cy="172.6" r="1.25"/><circle cx="422.7" cy="172.7" r="1.25"/><circle cx="424.2" cy="172.8" r="1.25"/><circle cx="425.7" cy="172.9" r="1.25"/><circle cx="427.2" cy="173" r="1.25"/><circle cx="428.6" cy="173.1" r="1.25"/><circle cx="430.1" cy="173.2" r="1.25"/><circle cx="431.6" cy="173.3" r="1.25"/><circle cx="433.1" cy="173.4" r="1.25"/><circle cx="434.5" cy="173.4" r="1.25"/><circle cx="436" cy="173.3" r="1.25"/><circle cx="437.5" cy="173.2" r="1.25"/><circle cx="439" cy="173.1" r="1.25"/><circle cx="440.4" cy="173" r="1.25"/><circle cx="441.9" cy="172.9" r="1.25"/><circle cx="443.4" cy="172.8" r="1.25"/><circle cx="444.9" cy="172.7" r="1.25"/><circle cx="446.3" cy="172.6" r="1.25"/><circle cx="447.8" cy="172.5" r="1.25"/><circle cx="449.3" cy="172.4" r="1.25"/><circle cx="450.8" cy="172.3" r="1.25"/><circle cx="452.2" cy="172.2" r="1.25"/><circle cx="453.7" cy="172.1" r="1.25"/><circle cx="455.2" cy="172" r="1.25"/><circle cx="432.5" cy="166.6" r="1.25"/><circle cx="435.2" cy="166.4" r="1.25"/><circle cx="429.2" cy="166.1" r="1.25"/><circle cx="438.1" cy="166" r="1.25"/><circle cx="426.5" cy="165.9" r="1.25"/><circle cx="441.1" cy="165.5" r="1.25"/><circle cx="423.7" cy="165.4" r="1.25"/><circle cx="443.9" cy="165.1" r="1.25"/><circle cx="421" cy="165.1" r="1.25"/><circle cx="446.8" cy="164.7" r="1.25"/><circle cx="418" cy="164.7" r="1.25"/><circle cx="449.7" cy="164.3" r="1.25"/><circle cx="415.1" cy="164.3" r="1.25"/><circle cx="452.7" cy="164" r="1.25"/><circle cx="412" cy="163.9" r="1.25"/><circle cx="455.5" cy="163.5" r="1.25"/><circle cx="432.3" cy="162.8" r="1.25"/><circle cx="435.2" cy="162.3" r="1.25"/><circle cx="429.2" cy="162.2" r="1.25"/><circle cx="438.2" cy="162" r="1.25"/><circle cx="426.3" cy="161.6" r="1.25"/><circle cx="441" cy="161.3" r="1.25"/><circle cx="423.5" cy="161" r="1.25"/><circle cx="444" cy="160.9" r="1.25"/><circle cx="420.6" cy="160.5" r="1.25"/><circle cx="447" cy="160.4" r="1.25"/><circle cx="417.7" cy="159.9" r="1.25"/><circle cx="450" cy="159.8" r="1.25"/><circle cx="433.6" cy="158.9" r="1.25"/><circle cx="430.8" cy="158.6" r="1.25"/><circle cx="436.8" cy="158.3" r="1.25"/><circle cx="427.8" cy="158" r="1.25"/><circle cx="439.5" cy="157.6" r="1.25"/><circle cx="425.3" cy="157.4" r="1.25"/><circle cx="442.3" cy="156.9" r="1.25"/><circle cx="422.1" cy="156.7" r="1.25"/><circle cx="445.3" cy="156.3" r="1.25"/><circle cx="419.2" cy="156.2" r="1.25"/><circle cx="448.5" cy="155.7" r="1.25"/><circle cx="432.4" cy="154.8" r="1.25"/><circle cx="435.2" cy="154.6" r="1.25"/><circle cx="429.6" cy="154.4" r="1.25"/><circle cx="438.2" cy="154" r="1.25"/><circle cx="426.4" cy="153.8" r="1.25"/><circle cx="441" cy="153.5" r="1.25"/><circle cx="423.5" cy="153.1" r="1.25"/><circle cx="444.2" cy="153" r="1.25"/><circle cx="420.7" cy="152.8" r="1.25"/><circle cx="447" cy="152.5" r="1.25"/><circle cx="418" cy="152.1" r="1.25"/><circle cx="449.5" cy="151.9" r="1.25"/><circle cx="432.4" cy="151" r="1.25"/><circle cx="435" cy="150.6" r="1.25"/><circle cx="429.7" cy="150.3" r="1.25"/><circle cx="438.3" cy="149.9" r="1.25"/><circle cx="426.7" cy="149.8" r="1.25"/><circle cx="441.1" cy="149.4" r="1.25"/><circle cx="423.4" cy="148.9" r="1.25"/><circle cx="444" cy="148.7" r="1.25"/><circle cx="420.6" cy="148.2" r="1.25"/><circle cx="447" cy="147.9" r="1.25"/><circle cx="432.4" cy="147.2" r="1.25"/><circle cx="435.1" cy="146.8" r="1.25"/><circle cx="429.5" cy="146.2" r="1.25"/><circle cx="438.1" cy="145.8" r="1.25"/><circle cx="426.8" cy="145.4" r="1.25"/><circle cx="440.9" cy="145.1" r="1.25"/><circle cx="423.6" cy="144.6" r="1.25"/><circle cx="444" cy="144" r="1.25"/><circle cx="433.6" cy="143.2" r="1.25"/><circle cx="431" cy="142.6" r="1.25"/><circle cx="436.6" cy="142.2" r="1.25"/><circle cx="428.1" cy="141.6" r="1.25"/><circle cx="439.7" cy="141.1" r="1.25"/><circle cx="425.3" cy="140.8" r="1.25"/><circle cx="442.5" cy="140.2" r="1.25"/><circle cx="434" cy="139.2" r="1.25"/><circle cx="430.9" cy="138.7" r="1.25"/><circle cx="436.8" cy="137.8" r="1.25"/><circle cx="427.9" cy="137" r="1.25"/><circle cx="439.4" cy="136.2" r="1.25"/><circle cx="432.2" cy="135.5" r="1.25"/><circle cx="435" cy="132.5" r="1.25"/><circle cx="433.9" cy="131.6" r="1.25"/><circle cx="430.9" cy="130" r="1.25"/><circle cx="436.6" cy="128.4" r="1.25"/><circle cx="432.2" cy="127.6" r="1.25"/><circle cx="435.2" cy="126.6" r="1.25"/><circle cx="429.2" cy="125.6" r="1.25"/><circle cx="438.2" cy="124.5" r="1.25"/><circle cx="432.3" cy="123.7" r="1.25"/><circle cx="435.3" cy="122.7" r="1.25"/><circle cx="429.4" cy="121.6" r="1.25"/><circle cx="438.1" cy="120.8" r="1.25"/><circle cx="435.6" cy="64.8" r="1.25"/><circle cx="433" cy="67.1" r="1.25"/><circle cx="433.7" cy="75.3" r="1.25"/><circle cx="433.7" cy="97.6" r="1.25"/><circle cx="433.7" cy="103.2" r="1.25"/><circle cx="433.7" cy="116.3" r="1.25"/></g>
<line x1="509.7" y1="54.2" x2="509.7" y2="209.5" stroke="#000" stroke-width="1.6"/>
<line x1="508.9" y1="208.7" x2="706.6" y2="208.7" stroke="#000" stroke-width="1.6"/>
<line x1="506.5" y1="54.9" x2="509.7" y2="54.9" stroke="#000" stroke-width="1.4"/>
<text transform="translate(505.5,58.8) rotate(0.05)" font-size="8.2" font-weight="bold" text-anchor="end" letter-spacing="1.1" class="s">25</text>
<line x1="506.5" y1="85.7" x2="509.7" y2="85.7" stroke="#000" stroke-width="1.4"/>
<text transform="translate(505.5,89.6) rotate(0.05)" font-size="8.2" font-weight="bold" text-anchor="end" letter-spacing="1.1" class="s">20</text>
<line x1="506.5" y1="116.4" x2="509.7" y2="116.4" stroke="#000" stroke-width="1.4"/>
<text transform="translate(505.5,120.3) rotate(0.05)" font-size="8.2" font-weight="bold" text-anchor="end" letter-spacing="1.1" class="s">15</text>
<line x1="506.5" y1="147.2" x2="509.7" y2="147.2" stroke="#000" stroke-width="1.4"/>
<text transform="translate(505.5,151.1) rotate(0.05)" font-size="8.2" font-weight="bold" text-anchor="end" letter-spacing="1.1" class="s">10</text>
<line x1="506.5" y1="177.9" x2="509.7" y2="177.9" stroke="#000" stroke-width="1.4"/>
<text transform="translate(505.5,181.8) rotate(0.05)" font-size="8.2" font-weight="bold" text-anchor="end" letter-spacing="1.1" class="s">5</text>
<line x1="506.5" y1="208.7" x2="509.7" y2="208.7" stroke="#000" stroke-width="1.4"/>
<text transform="translate(505.5,212.6) rotate(0.05)" font-size="8.2" font-weight="bold" text-anchor="end" letter-spacing="1.1" class="s">0</text>
<line x1="543.3" y1="208.7" x2="543.3" y2="211.7" stroke="#000" stroke-width="1.4"/>
<line x1="607.8" y1="208.7" x2="607.8" y2="211.7" stroke="#000" stroke-width="1.4"/>
<line x1="673.2" y1="208.7" x2="673.2" y2="211.7" stroke="#000" stroke-width="1.4"/>
<text class="s" transform="translate(547.4,219.9) rotate(-45)" font-size="7.6" font-weight="bold" text-anchor="end" letter-spacing="1.28">TURP</text>
<text class="s" transform="translate(610.7,222.3) rotate(-45)" font-size="7.6" font-weight="bold" text-anchor="end" letter-spacing="1.28">HoLEP/ThuLEP</text>
<text class="s" transform="translate(676.9,220.4) rotate(-45)" font-size="7.6" font-weight="bold" text-anchor="end" letter-spacing="1.28">RP</text>
<text class="s" transform="translate(493,130.4) rotate(-90)" font-size="7.5" font-weight="bold" text-anchor="middle" letter-spacing="1.22">KCl-induced contraction (mN)</text>
<polyline fill="none" stroke="#1a1a1a" stroke-width="0.9" points="543.5,19.4 543.5,10.5 672.4,10.5 672.4,19.4"/>
<text transform="translate(607.1,6.8) rotate(0.05)" font-size="7.6" font-weight="bold" text-anchor="middle" letter-spacing="1.2" class="p">p&lt;0.0001</text>
<polyline fill="none" stroke="#1a1a1a" stroke-width="0.9" points="607.4,67.5 607.4,52.5 673.2,52.5 673.2,59.5"/>
<text transform="translate(640.4,48.8) rotate(0.05)" font-size="7.6" font-weight="bold" text-anchor="middle" letter-spacing="1.2" class="p">p=0.0034</text>
<polyline fill="none" stroke="#1a1a1a" stroke-width="0.9" points="542.5,150.5 542.5,74.2 607.3,74.2 607.3,81.3"/>
<text transform="translate(575,70.5) rotate(0.05)" font-size="7.6" font-weight="bold" text-anchor="middle" letter-spacing="1.2" class="p">p&lt;0.0001</text>
<g fill="#000"><circle cx="540.9" cy="161.4" r="1.25"/><circle cx="543.8" cy="163.4" r="1.25"/><circle cx="542.4" cy="169.3" r="1.25"/><circle cx="542.4" cy="175.1" r="1.25"/><circle cx="539" cy="182.7" r="1.25"/><circle cx="542.5" cy="185.8" r="1.25"/><circle cx="545.5" cy="185.6" r="1.25"/><circle cx="537" cy="188.6" r="1.25"/><circle cx="540.5" cy="189.5" r="1.25"/><circle cx="545" cy="190.5" r="1.25"/><circle cx="548.5" cy="188.8" r="1.25"/><circle cx="540.7" cy="193.5" r="1.25"/><circle cx="544" cy="193.4" r="1.25"/><circle cx="542.2" cy="201.3" r="1.25"/><circle cx="531.2" cy="195.3" r="1.25"/><circle cx="534" cy="196.2" r="1.25"/><circle cx="536.7" cy="197.2" r="1.25"/><circle cx="539.5" cy="198.1" r="1.25"/><circle cx="542.2" cy="199" r="1.25"/><circle cx="545" cy="198.1" r="1.25"/><circle cx="547.7" cy="197.2" r="1.25"/><circle cx="550.5" cy="196.2" r="1.25"/><circle cx="553.2" cy="195.3" r="1.25"/></g>
<g fill="#000"><circle cx="521.2" cy="201.9" r="1.0"/><circle cx="523.4" cy="202.2" r="1.0"/><circle cx="525.6" cy="202.4" r="1.0"/><circle cx="527.8" cy="202.7" r="1.0"/><circle cx="530" cy="202.9" r="1.0"/><circle cx="532.3" cy="203.2" r="1.0"/><circle cx="534.5" cy="203.4" r="1.0"/><circle cx="536.7" cy="203.7" r="1.0"/><circle cx="538.9" cy="203.9" r="1.0"/><circle cx="541.1" cy="204.2" r="1.0"/><circle cx="543.3" cy="204.2" r="1.0"/><circle cx="545.5" cy="203.9" r="1.0"/><circle cx="547.7" cy="203.7" r="1.0"/><circle cx="549.9" cy="203.4" r="1.0"/><circle cx="552.1" cy="203.2" r="1.0"/><circle cx="554.4" cy="202.9" r="1.0"/><circle cx="556.6" cy="202.7" r="1.0"/><circle cx="558.8" cy="202.4" r="1.0"/><circle cx="561" cy="202.2" r="1.0"/><circle cx="563.2" cy="201.9" r="1.0"/></g>
<path d="M520.6,205.6 Q531,207.0 542.2,207.4 Q553,207.0 563.6,205.6" fill="none" stroke="#000" stroke-width="1.5" stroke-linecap="round"/>
<line x1="519.9" y1="199.3" x2="563.8" y2="199.3" stroke="#000" stroke-width="1.1"/>
<path d="M586.8,191.7 L607.9,193.5 L629,191.7 M586.8,193.8 L607.9,195.6 L629,193.8 M586.8,195.8 L607.9,197.6 L629,195.8 M586.8,197.8 L607.9,199.7 L629,197.8 M586.8,199.9 L607.9,201.7 L629,199.9 M586.8,201.9 L607.9,203.8 L629,201.9 M586.8,204 L607.9,205.8 L629,204 M587.4,206 Q590.4,207.7 607.9,207.7 Q625.4,207.7 628.4,206" fill="none" stroke="#000" stroke-width="1.6" stroke-linecap="round" stroke-linejoin="round"/>
<g fill="#000"><circle cx="586.6" cy="186.3" r="1.25"/><circle cx="589" cy="186.4" r="1.25"/><circle cx="591.3" cy="186.6" r="1.25"/><circle cx="593.7" cy="186.7" r="1.25"/><circle cx="596.1" cy="186.9" r="1.25"/><circle cx="598.4" cy="187" r="1.25"/><circle cx="600.8" cy="187.2" r="1.25"/><circle cx="603.2" cy="187.3" r="1.25"/><circle cx="605.5" cy="187.5" r="1.25"/><circle cx="607.9" cy="187.6" r="1.25"/><circle cx="610.3" cy="187.5" r="1.25"/><circle cx="612.6" cy="187.3" r="1.25"/><circle cx="615" cy="187.2" r="1.25"/><circle cx="617.4" cy="187" r="1.25"/><circle cx="619.7" cy="186.9" r="1.25"/><circle cx="622.1" cy="186.7" r="1.25"/><circle cx="624.5" cy="186.6" r="1.25"/><circle cx="626.8" cy="186.4" r="1.25"/><circle cx="629.2" cy="186.3" r="1.25"/><circle cx="586.6" cy="188.6" r="1.25"/><circle cx="588.3" cy="188.7" r="1.25"/><circle cx="590" cy="188.8" r="1.25"/><circle cx="591.7" cy="188.9" r="1.25"/><circle cx="593.4" cy="189" r="1.25"/><circle cx="595.1" cy="189.1" r="1.25"/><circle cx="596.8" cy="189.2" r="1.25"/><circle cx="598.5" cy="189.3" r="1.25"/><circle cx="600.2" cy="189.4" r="1.25"/><circle cx="601.9" cy="189.5" r="1.25"/><circle cx="603.6" cy="189.6" r="1.25"/><circle cx="605.3" cy="189.7" r="1.25"/><circle cx="607" cy="189.8" r="1.25"/><circle cx="608.8" cy="189.8" r="1.25"/><circle cx="610.5" cy="189.7" r="1.25"/><circle cx="612.2" cy="189.6" r="1.25"/><circle cx="613.9" cy="189.5" r="1.25"/><circle cx="615.6" cy="189.4" r="1.25"/><circle cx="617.3" cy="189.3" r="1.25"/><circle cx="619" cy="189.2" r="1.25"/><circle cx="620.7" cy="189.1" r="1.25"/><circle cx="622.4" cy="189" r="1.25"/><circle cx="624.1" cy="188.9" r="1.25"/><circle cx="625.8" cy="188.8" r="1.25"/><circle cx="627.5" cy="188.7" r="1.25"/><circle cx="629.2" cy="188.6" r="1.25"/><circle cx="607.7" cy="185.4" r="1.25"/><circle cx="604.8" cy="185.2" r="1.25"/><circle cx="610.8" cy="185" r="1.25"/><circle cx="601.9" cy="184.7" r="1.25"/><circle cx="613.9" cy="184.5" r="1.25"/><circle cx="598.6" cy="184.2" r="1.25"/><circle cx="616.9" cy="183.8" r="1.25"/><circle cx="595.8" cy="183.6" r="1.25"/><circle cx="620.4" cy="183.4" r="1.25"/><circle cx="592.4" cy="183.1" r="1.25"/><circle cx="623.2" cy="182.9" r="1.25"/><circle cx="589.8" cy="182.5" r="1.25"/><circle cx="626.2" cy="182.3" r="1.25"/><circle cx="606.3" cy="181.5" r="1.25"/><circle cx="609.3" cy="181.1" r="1.25"/><circle cx="603.4" cy="180.8" r="1.25"/><circle cx="612.3" cy="180.5" r="1.25"/><circle cx="600.1" cy="180.2" r="1.25"/><circle cx="615.6" cy="180" r="1.25"/><circle cx="597.2" cy="179.7" r="1.25"/><circle cx="618.7" cy="179.6" r="1.25"/><circle cx="594.4" cy="179.2" r="1.25"/><circle cx="621.5" cy="178.8" r="1.25"/><circle cx="590.9" cy="178.6" r="1.25"/><circle cx="624.9" cy="178.4" r="1.25"/><circle cx="607.8" cy="177.5" r="1.25"/><circle cx="604.7" cy="177.2" r="1.25"/><circle cx="610.8" cy="176.9" r="1.25"/><circle cx="601.6" cy="176.5" r="1.25"/><circle cx="614" cy="176.1" r="1.25"/><circle cx="598.8" cy="175.9" r="1.25"/><circle cx="617.1" cy="175.5" r="1.25"/><circle cx="595.7" cy="175.3" r="1.25"/><circle cx="620.1" cy="175" r="1.25"/><circle cx="592.8" cy="174.6" r="1.25"/><circle cx="623" cy="174.3" r="1.25"/><circle cx="606.3" cy="173.5" r="1.25"/><circle cx="609.5" cy="173" r="1.25"/><circle cx="603.4" cy="172.7" r="1.25"/><circle cx="612.4" cy="172.3" r="1.25"/><circle cx="600.4" cy="172.2" r="1.25"/><circle cx="615.6" cy="171.9" r="1.25"/><circle cx="597" cy="171.3" r="1.25"/><circle cx="618.6" cy="171.2" r="1.25"/><circle cx="594.4" cy="170.7" r="1.25"/><circle cx="621.5" cy="170.4" r="1.25"/><circle cx="608.1" cy="169.3" r="1.25"/><circle cx="605" cy="169.1" r="1.25"/><circle cx="611.1" cy="168.7" r="1.25"/><circle cx="601.8" cy="168.2" r="1.25"/><circle cx="613.9" cy="167.9" r="1.25"/><circle cx="598.9" cy="167.4" r="1.25"/><circle cx="616.9" cy="167.2" r="1.25"/><circle cx="595.5" cy="166.6" r="1.25"/><circle cx="619.9" cy="166.4" r="1.25"/><circle cx="606.6" cy="165.5" r="1.25"/><circle cx="609.3" cy="164.8" r="1.25"/><circle cx="603.1" cy="164.5" r="1.25"/><circle cx="612.6" cy="164.1" r="1.25"/><circle cx="600.1" cy="163.7" r="1.25"/><circle cx="615.6" cy="163.3" r="1.25"/><circle cx="597.3" cy="162.9" r="1.25"/><circle cx="618.7" cy="162.3" r="1.25"/><circle cx="606.3" cy="161.3" r="1.25"/><circle cx="609.3" cy="160.9" r="1.25"/><circle cx="603.3" cy="160.4" r="1.25"/><circle cx="612.4" cy="160" r="1.25"/><circle cx="600.5" cy="159.6" r="1.25"/><circle cx="615.3" cy="159.2" r="1.25"/><circle cx="597.1" cy="158.8" r="1.25"/><circle cx="618.7" cy="158.3" r="1.25"/><circle cx="607.7" cy="157.3" r="1.25"/><circle cx="605" cy="156.8" r="1.25"/><circle cx="610.9" cy="156.4" r="1.25"/><circle cx="602" cy="155.8" r="1.25"/><circle cx="613.8" cy="155.4" r="1.25"/><circle cx="598.9" cy="154.8" r="1.25"/><circle cx="616.9" cy="154.4" r="1.25"/><circle cx="606.5" cy="153.4" r="1.25"/><circle cx="609.2" cy="152.8" r="1.25"/><circle cx="603.4" cy="152.2" r="1.25"/><circle cx="612.3" cy="151.6" r="1.25"/><circle cx="600" cy="151.1" r="1.25"/><circle cx="615.3" cy="150.5" r="1.25"/><circle cx="607.9" cy="91.1" r="1.25"/><circle cx="609.4" cy="109.4" r="1.25"/><circle cx="606.1" cy="112" r="1.25"/><circle cx="606.1" cy="122.2" r="1.25"/><circle cx="609.4" cy="124.7" r="1.25"/><circle cx="607.9" cy="131.1" r="1.25"/><circle cx="607.9" cy="134.9" r="1.25"/><circle cx="604.8" cy="140.8" r="1.25"/><circle cx="610.9" cy="143" r="1.25"/><circle cx="607.9" cy="144.1" r="1.25"/><circle cx="606.1" cy="146.4" r="1.25"/><circle cx="609.5" cy="147.9" r="1.25"/></g>
<path d="M652,174.8 L673,176.9 L694,174.8 M652,177 L673,179.1 L694,177 M652,179.1 L673,181.2 L694,179.1 M652,181.3 L673,183.4 L694,181.3 M652,183.4 L673,185.5 L694,183.4 M652,185.6 L673,187.7 L694,185.6 M652,187.7 L673,189.8 L694,187.7 M652,189.9 L673,192 L694,189.9 M652,192 L673,194.1 L694,192 M652,194.2 L673,196.3 L694,194.2 M652,196.3 L673,198.4 L694,196.3 M652,198.5 L673,200.6 L694,198.5 M652,200.6 L673,202.7 L694,200.6 M652,202.8 L673,204.9 L694,202.8 M653,205 Q656,207 673,207 Q690,207 693,205" fill="none" stroke="#000" stroke-width="1.68" stroke-linecap="round" stroke-linejoin="round"/>
<g fill="#000"><circle cx="651.8" cy="168" r="1.25"/><circle cx="654.2" cy="168.2" r="1.25"/><circle cx="656.5" cy="168.3" r="1.25"/><circle cx="658.9" cy="168.5" r="1.25"/><circle cx="661.2" cy="168.6" r="1.25"/><circle cx="663.6" cy="168.8" r="1.25"/><circle cx="665.9" cy="168.9" r="1.25"/><circle cx="668.3" cy="169.1" r="1.25"/><circle cx="670.6" cy="169.2" r="1.25"/><circle cx="673" cy="169.4" r="1.25"/><circle cx="675.4" cy="169.2" r="1.25"/><circle cx="677.7" cy="169.1" r="1.25"/><circle cx="680.1" cy="168.9" r="1.25"/><circle cx="682.4" cy="168.8" r="1.25"/><circle cx="684.8" cy="168.6" r="1.25"/><circle cx="687.1" cy="168.5" r="1.25"/><circle cx="689.5" cy="168.3" r="1.25"/><circle cx="691.8" cy="168.2" r="1.25"/><circle cx="694.2" cy="168" r="1.25"/><circle cx="651.8" cy="170.3" r="1.25"/><circle cx="653.6" cy="170.4" r="1.25"/><circle cx="655.5" cy="170.5" r="1.25"/><circle cx="657.3" cy="170.7" r="1.25"/><circle cx="659.2" cy="170.8" r="1.25"/><circle cx="661" cy="170.9" r="1.25"/><circle cx="662.9" cy="171" r="1.25"/><circle cx="664.7" cy="171.2" r="1.25"/><circle cx="666.5" cy="171.3" r="1.25"/><circle cx="668.4" cy="171.4" r="1.25"/><circle cx="670.2" cy="171.5" r="1.25"/><circle cx="672.1" cy="171.6" r="1.25"/><circle cx="673.9" cy="171.6" r="1.25"/><circle cx="675.8" cy="171.5" r="1.25"/><circle cx="677.6" cy="171.4" r="1.25"/><circle cx="679.5" cy="171.3" r="1.25"/><circle cx="681.3" cy="171.2" r="1.25"/><circle cx="683.1" cy="171" r="1.25"/><circle cx="685" cy="170.9" r="1.25"/><circle cx="686.8" cy="170.8" r="1.25"/><circle cx="688.7" cy="170.7" r="1.25"/><circle cx="690.5" cy="170.5" r="1.25"/><circle cx="692.4" cy="170.4" r="1.25"/><circle cx="694.2" cy="170.3" r="1.25"/><circle cx="651.8" cy="172.6" r="1.25"/><circle cx="653.3" cy="172.7" r="1.25"/><circle cx="654.7" cy="172.8" r="1.25"/><circle cx="656.2" cy="172.9" r="1.25"/><circle cx="657.6" cy="173" r="1.25"/><circle cx="659.1" cy="173.1" r="1.25"/><circle cx="660.6" cy="173.2" r="1.25"/><circle cx="662" cy="173.3" r="1.25"/><circle cx="663.5" cy="173.4" r="1.25"/><circle cx="665" cy="173.5" r="1.25"/><circle cx="666.4" cy="173.6" r="1.25"/><circle cx="667.9" cy="173.7" r="1.25"/><circle cx="669.3" cy="173.8" r="1.25"/><circle cx="670.8" cy="173.9" r="1.25"/><circle cx="672.3" cy="174" r="1.25"/><circle cx="673.7" cy="174" r="1.25"/><circle cx="675.2" cy="173.9" r="1.25"/><circle cx="676.7" cy="173.8" r="1.25"/><circle cx="678.1" cy="173.7" r="1.25"/><circle cx="679.6" cy="173.6" r="1.25"/><circle cx="681" cy="173.5" r="1.25"/><circle cx="682.5" cy="173.4" r="1.25"/><circle cx="684" cy="173.3" r="1.25"/><circle cx="685.4" cy="173.2" r="1.25"/><circle cx="686.9" cy="173.1" r="1.25"/><circle cx="688.4" cy="173" r="1.25"/><circle cx="689.8" cy="172.9" r="1.25"/><circle cx="691.3" cy="172.8" r="1.25"/><circle cx="692.7" cy="172.7" r="1.25"/><circle cx="694.2" cy="172.6" r="1.25"/><circle cx="671.6" cy="167.5" r="1.25"/><circle cx="674.3" cy="167.3" r="1.25"/><circle cx="668.3" cy="167" r="1.25"/><circle cx="677.2" cy="166.9" r="1.25"/><circle cx="665.6" cy="166.8" r="1.25"/><circle cx="680.2" cy="166.4" r="1.25"/><circle cx="662.8" cy="166.3" r="1.25"/><circle cx="683" cy="166" r="1.25"/><circle cx="660.1" cy="166" r="1.25"/><circle cx="685.9" cy="165.6" r="1.25"/><circle cx="657.1" cy="165.6" r="1.25"/><circle cx="688.8" cy="165.2" r="1.25"/><circle cx="654.2" cy="165.2" r="1.25"/><circle cx="691.8" cy="164.9" r="1.25"/><circle cx="651.1" cy="164.8" r="1.25"/><circle cx="694.6" cy="164.4" r="1.25"/><circle cx="671.4" cy="163.7" r="1.25"/><circle cx="674.3" cy="163.2" r="1.25"/><circle cx="668.3" cy="163.1" r="1.25"/><circle cx="677.3" cy="162.9" r="1.25"/><circle cx="665.4" cy="162.5" r="1.25"/><circle cx="680.1" cy="162.2" r="1.25"/><circle cx="662.6" cy="161.9" r="1.25"/><circle cx="683.1" cy="161.8" r="1.25"/><circle cx="659.7" cy="161.4" r="1.25"/><circle cx="686.1" cy="161.3" r="1.25"/><circle cx="656.8" cy="160.8" r="1.25"/><circle cx="689.1" cy="160.7" r="1.25"/><circle cx="672.7" cy="159.8" r="1.25"/><circle cx="669.9" cy="159.5" r="1.25"/><circle cx="675.9" cy="159.2" r="1.25"/><circle cx="666.9" cy="158.9" r="1.25"/><circle cx="678.6" cy="158.5" r="1.25"/><circle cx="664.4" cy="158.3" r="1.25"/><circle cx="681.4" cy="157.8" r="1.25"/><circle cx="661.2" cy="157.6" r="1.25"/><circle cx="684.4" cy="157.2" r="1.25"/><circle cx="658.3" cy="157.1" r="1.25"/><circle cx="687.6" cy="156.6" r="1.25"/><circle cx="671.5" cy="155.7" r="1.25"/><circle cx="674.3" cy="155.5" r="1.25"/><circle cx="668.7" cy="155.3" r="1.25"/><circle cx="677.3" cy="154.9" r="1.25"/><circle cx="665.5" cy="154.7" r="1.25"/><circle cx="680.1" cy="154.4" r="1.25"/><circle cx="662.6" cy="154" r="1.25"/><circle cx="683.3" cy="153.9" r="1.25"/><circle cx="659.8" cy="153.7" r="1.25"/><circle cx="686.1" cy="153.4" r="1.25"/><circle cx="657.1" cy="153" r="1.25"/><circle cx="688.6" cy="152.8" r="1.25"/><circle cx="671.5" cy="151.9" r="1.25"/><circle cx="674.1" cy="151.5" r="1.25"/><circle cx="668.8" cy="151.2" r="1.25"/><circle cx="677.4" cy="150.8" r="1.25"/><circle cx="665.8" cy="150.7" r="1.25"/><circle cx="680.2" cy="150.3" r="1.25"/><circle cx="662.5" cy="149.8" r="1.25"/><circle cx="683.1" cy="149.6" r="1.25"/><circle cx="659.7" cy="149.1" r="1.25"/><circle cx="686.1" cy="148.8" r="1.25"/><circle cx="671.5" cy="148.1" r="1.25"/><circle cx="674.2" cy="147.7" r="1.25"/><circle cx="668.6" cy="147.1" r="1.25"/><circle cx="677.2" cy="146.7" r="1.25"/><circle cx="665.9" cy="146.3" r="1.25"/><circle cx="680" cy="146" r="1.25"/><circle cx="662.7" cy="145.5" r="1.25"/><circle cx="683.1" cy="144.9" r="1.25"/><circle cx="672.7" cy="144.1" r="1.25"/><circle cx="670.1" cy="143.5" r="1.25"/><circle cx="675.7" cy="143.1" r="1.25"/><circle cx="667.2" cy="142.5" r="1.25"/><circle cx="678.8" cy="142" r="1.25"/><circle cx="664.4" cy="141.7" r="1.25"/><circle cx="681.6" cy="141.1" r="1.25"/><circle cx="673.1" cy="140.1" r="1.25"/><circle cx="670" cy="139.6" r="1.25"/><circle cx="675.9" cy="138.7" r="1.25"/><circle cx="667" cy="137.9" r="1.25"/><circle cx="678.5" cy="137.1" r="1.25"/><circle cx="671.3" cy="136.4" r="1.25"/><circle cx="674.1" cy="133.4" r="1.25"/><circle cx="673" cy="132.5" r="1.25"/><circle cx="670" cy="130.9" r="1.25"/><circle cx="675.7" cy="129.3" r="1.25"/><circle cx="671.3" cy="128.5" r="1.25"/><circle cx="674.3" cy="127.5" r="1.25"/><circle cx="668.3" cy="126.5" r="1.25"/><circle cx="677.3" cy="125.4" r="1.25"/><circle cx="671.4" cy="124.6" r="1.25"/><circle cx="674.4" cy="123.6" r="1.25"/><circle cx="668.5" cy="122.5" r="1.25"/><circle cx="677.2" cy="121.7" r="1.25"/><circle cx="674.7" cy="65.7" r="1.25"/><circle cx="672.1" cy="68" r="1.25"/><circle cx="672.8" cy="76.2" r="1.25"/><circle cx="672.8" cy="98.5" r="1.25"/><circle cx="672.8" cy="104.1" r="1.25"/><circle cx="672.8" cy="117.2" r="1.25"/></g>
</svg>
</body></html>
